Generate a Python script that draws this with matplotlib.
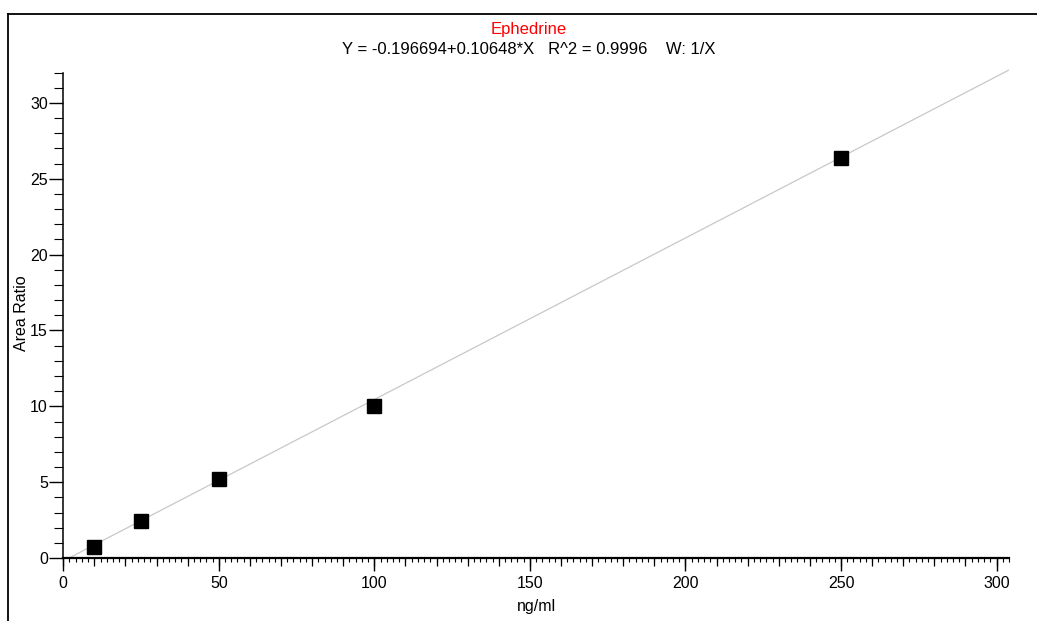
import matplotlib
matplotlib.use("Agg")
import matplotlib.pyplot as plt
from matplotlib.lines import Line2D
from matplotlib.ticker import MultipleLocator
import numpy as np

plt.rcParams['font.family'] = ['Liberation Sans', 'DejaVu Sans']

# Data
concentration = [10, 25, 50, 100, 250]
area_ratio = [0.75, 2.44, 5.24, 10.05, 26.35]
intercept = -0.196694
slope = 0.10648
compound = "Ephedrine"
equation = "Y = -0.196694+0.10648*X   R^2 = 0.9996    W: 1/X"

fig = plt.figure(figsize=(10.37, 6.21), dpi=100)
ax = fig.add_axes([0.0610, 0.1014, 0.912, 0.789])

xfit = np.linspace(0, 304, 200)
ax.plot(xfit, intercept + slope * xfit, color='#c8c8c8', lw=0.9, zorder=1)
ax.plot(concentration, area_ratio, linestyle='none', marker='s', markersize=9.5,
        color='black', zorder=3)

ax.set_xlim(0, 304)
ax.set_ylim(0, 32.3)

for s in ['top', 'right']:
    ax.spines[s].set_visible(False)
ax.spines['bottom'].set_bounds(0, 304)
ax.spines['left'].set_bounds(0, 32)
ax.spines['bottom'].set_linewidth(1.6)
ax.spines['left'].set_linewidth(1.1)

ax.xaxis.set_major_locator(MultipleLocator(50))
ax.xaxis.set_minor_locator(MultipleLocator(2))
ax.yaxis.set_major_locator(MultipleLocator(5))
ax.yaxis.set_minor_locator(MultipleLocator(1))

ax.tick_params(axis='x', which='major', direction='out', length=9, width=1.0,
               labelsize=11.5, pad=4, colors='black')
ax.tick_params(axis='x', which='minor', direction='out', length=3.2, width=0.8)
ax.tick_params(axis='y', which='major', direction='out', length=10, width=1.0,
               labelsize=11.5, pad=1)
ax.tick_params(axis='y', which='minor', direction='out', length=6.5, width=0.8)

# medium ticks every 10 on x
sec = ax.secondary_xaxis('bottom')
sec.spines['bottom'].set_visible(False)
sec.xaxis.set_major_locator(MultipleLocator(10))
sec.tick_params(axis='x', which='major', direction='out', length=5.5, width=0.9,
                labelbottom=False)
sec.xaxis.set_minor_locator(MultipleLocator(1000))

ax.set_xlabel("ng/ml", fontsize=11.5, labelpad=6)
ax.set_ylabel("Area Ratio", fontsize=11.5, labelpad=1)

fig.text(0.510, 0.953, compound, color='red', fontsize=12, ha='center', va='center')
fig.text(0.510, 0.921, equation, color='black', fontsize=12, ha='center', va='center')

# Figure frame lines (top and left)
fig.add_artist(Line2D([8/1037, 1], [1 - 14/621, 1 - 14/621], transform=fig.transFigure,
                      color='black', lw=1.3))
fig.add_artist(Line2D([8/1037, 8/1037], [0, 1 - 14/621], transform=fig.transFigure,
                      color='black', lw=1.3))

fig.savefig("out.png", dpi=100)
